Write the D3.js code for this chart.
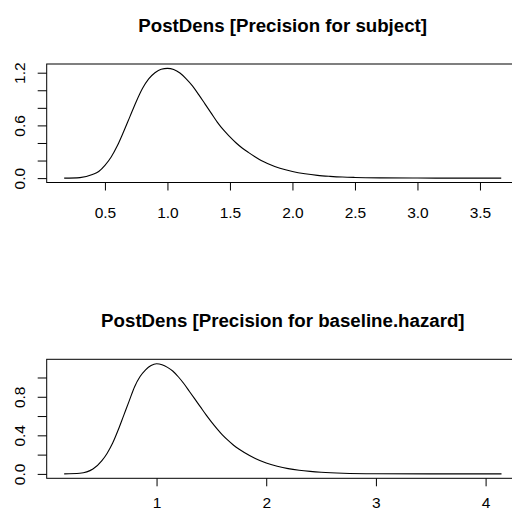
<!DOCTYPE html>
<html>
<head>
<meta charset="utf-8">
<script src="https://cdn.jsdelivr.net/npm/d3@7"></script>
<style>
html,body{margin:0;padding:0;background:#fff;}
svg{display:block;}
text{font-family:"Liberation Sans",Arial,Helvetica,sans-serif;fill:#000;}
</style>
</head>
<body>
<svg id="chart" width="512" height="512"></svg>
<script>
// ---- Data ----
const titles = ["PostDens [Precision for subject]", "PostDens [Precision for baseline.hazard]"];

const subjectX = [0.174,0.30,0.40,0.45,0.50,0.55,0.60,0.65,0.70,0.75,0.80,0.85,0.90,0.95,1.00,1.05,1.10,1.15,1.20,1.25,1.30,1.35,1.40,1.45,1.50,1.55,1.60,1.65,1.70,1.75,1.80,1.90,2.00,2.10,2.20,2.30,2.40,2.50,2.70,3.00,3.30,3.67];
const subjectY = [0.000,0.006,0.042,0.075,0.145,0.240,0.370,0.530,0.700,0.870,1.020,1.130,1.200,1.240,1.249,1.236,1.196,1.130,1.050,0.950,0.845,0.740,0.635,0.545,0.470,0.400,0.340,0.290,0.243,0.200,0.166,0.112,0.075,0.049,0.031,0.020,0.012,0.0075,0.003,0.0008,0.0002,0.000];

const hazardX = [0.158,0.30,0.42,0.50,0.55,0.60,0.65,0.70,0.75,0.80,0.85,0.90,0.95,1.00,1.05,1.10,1.15,1.20,1.25,1.30,1.35,1.40,1.45,1.50,1.55,1.60,1.65,1.70,1.75,1.80,1.90,2.00,2.10,2.20,2.30,2.40,2.50,2.70,3.00,3.50,4.145];
const hazardY = [0.000,0.006,0.050,0.135,0.215,0.320,0.455,0.605,0.755,0.905,1.010,1.080,1.125,1.143,1.133,1.105,1.065,1.005,0.935,0.855,0.775,0.695,0.615,0.540,0.470,0.405,0.350,0.300,0.258,0.222,0.160,0.113,0.080,0.055,0.038,0.026,0.017,0.007,0.002,0.0003,0.000];

const xTicks1 = [0.5,1.0,1.5,2.0,2.5,3.0,3.5];
const xTickLabels1 = ["0.5","1.0","1.5","2.0","2.5","3.0","3.5"];
const yTicks1 = [0,0.2,0.4,0.6,0.8,1.0,1.2];
const yTickLabels1 = ["0.0","","","0.6","","","1.2"];

const xTicks2 = [1,2,3,4];
const xTickLabels2 = ["1","2","3","4"];
const yTicks2 = [0,0.2,0.4,0.6,0.8,1.0];
const yTickLabels2 = ["0.0","","0.4","","0.8",""];

// ---- Drawing ----
const svg = d3.select("#chart");

function rExtend(arr){
  const lo = d3.min(arr), hi = d3.max(arr), d = (hi-lo)*0.04;
  return [lo-d, hi+d];
}

function panel(opt){
  const {xs, ys, title, xTicks, xLabels, yTicks, yLabels, top, bottom, left, right, labelOffset} = opt;
  const x = d3.scaleLinear().domain(rExtend(xs)).range([left, right]);
  const y = d3.scaleLinear().domain(rExtend(ys.concat([0]))).range([bottom, top]);
  const g = svg.append("g");

  // box
  g.append("rect").attr("x", left).attr("y", top)
    .attr("width", right-left).attr("height", bottom-top)
    .attr("fill","none").attr("stroke","#000").attr("stroke-width",1);

  // x axis
  const xa = g.append("g").attr("transform", `translate(0,${bottom})`)
    .call(d3.axisBottom(x).tickValues(xTicks).tickSize(8).tickSizeOuter(0)
      .tickFormat((d,i)=>xLabels[i]));
  xa.select(".domain").remove();
  xa.selectAll(".tick line").attr("stroke","#000");
  xa.selectAll(".tick text").attr("y", labelOffset).attr("dy", null)
    .attr("font-size", 15.5).attr("font-family", null);

  // y axis
  const ya = g.append("g").attr("transform", `translate(${left},0)`)
    .call(d3.axisLeft(y).tickValues(yTicks).tickSize(9).tickSizeOuter(0)
      .tickFormat((d,i)=>yLabels[i]));
  ya.select(".domain").remove();
  ya.selectAll(".tick line").attr("stroke","#000");
  ya.selectAll(".tick text")
    .attr("x", null).attr("dy", null)
    .attr("transform", `translate(${25-left},0) rotate(-90)`)
    .attr("text-anchor","middle")
    .attr("font-size", 15.5).attr("font-family", null);

  // curve
  const data = xs.map((d,i)=>[d, ys[i]]);
  g.append("path").datum(data)
    .attr("fill","none").attr("stroke","#000").attr("stroke-width",1.1)
    .attr("d", d3.line().x(d=>x(d[0])).y(d=>y(d[1])).curve(d3.curveMonotoneX));

  // title
  g.append("text").attr("x", (left+right)/2).attr("y", top-32.5)
    .attr("text-anchor","middle").attr("font-weight","bold")
    .attr("font-size", 18.7).text(title);
}

panel({xs: subjectX, ys: subjectY, title: titles[0],
  xTicks: xTicks1, xLabels: xTickLabels1, yTicks: yTicks1, yLabels: yTickLabels1,
  top: 64, bottom: 182.5, left: 46.7, right: 518.7, labelOffset: 35.5});

panel({xs: hazardX, ys: hazardY, title: titles[1],
  xTicks: xTicks2, xLabels: xTickLabels2, yTicks: yTicks2, yLabels: yTickLabels2,
  top: 359.3, bottom: 478.3, left: 46.7, right: 519, labelOffset: 30});
</script>
</body>
</html>
